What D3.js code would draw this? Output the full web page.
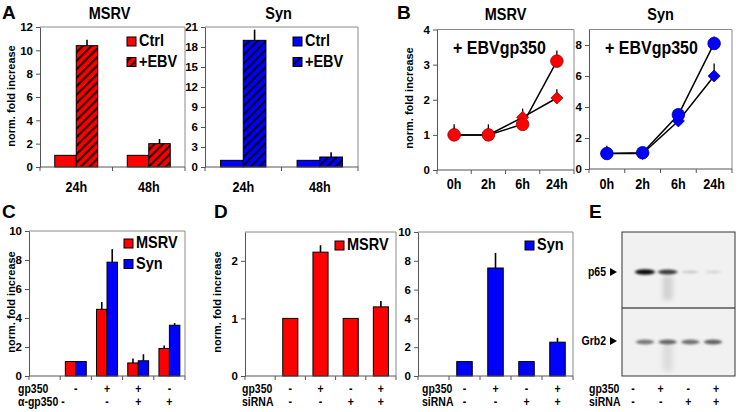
<!DOCTYPE html>
<html><head><meta charset="utf-8">
<script src="https://cdn.jsdelivr.net/npm/d3@7"></script>
<style>
body{margin:0;background:#fff}
svg{display:block}
text{font-family:"Liberation Sans",Arial,sans-serif;font-weight:bold;fill:#000}
</style>
</head><body>
<svg id="c" width="739" height="412"></svg>
<script>
// ---------------- DATA ----------------
// Panel A
const aCats = ['24h', '48h'];
const aSeries = ['Ctrl', '+EBV'];
const aMsrvCtrl = [1, 1];
const aMsrvEbv = [10.4, 2.0];
const aMsrvEbvErr = [0.5, 0.4];
const aSynCtrl = [1, 1];
const aSynEbv = [19.0, 1.5];
const aSynEbvErr = [1.6, 0.7];
const aMsrvTicks = [0, 2, 4, 6, 8, 10, 12];
const aSynTicks = [0, 3, 6, 9, 12, 15, 18, 21];
// Panel B
const bTimes = ['0h', '2h', '6h', '24h'];
const bMsrvCircle = [1, 1, 1.3, 3.1];
const bMsrvCircleErr = [0.3, 0.3, 0.1, 0.3];
const bMsrvDiamond = [1, 1, 1.5, 2.05];
const bMsrvDiamondErr = [0.2, 0.2, 0.25, 0.25];
const bSynCircle = [1, 1.05, 3.5, 8.1];
const bSynCircleErr = [0.5, 0.3, 0.4, 0.45];
const bSynDiamond = [1, 1, 3.1, 6.0];
const bSynDiamondErr = [0.3, 0.3, 0.3, 0.8];
const bMsrvTicks = [0, 1, 2, 3, 4];
const bSynTicks = [0, 2, 4, 6, 8];
// Panel C
const cCats = ['c1', 'c2', 'c3', 'c4', 'c5'];
const cMsrv = [null, 1, 4.6, 0.9, 1.9];
const cMsrvErr = [0, 0, 0.5, 0.3, 0.2];
const cSyn = [null, 1, 7.85, 1.05, 3.5];
const cSynErr = [0, 0, 0.9, 0.45, 0.15];
const cTicks = [0, 2, 4, 6, 8, 10];
const cRowLabels = ['gp350', 'α-gp350 -'];
const cGp350 = ['', '-', '+', '+', '-'];
const cAnti = ['', '', '-', '+', '+'];
// Panel D
const dCats = ['d1', 'd2', 'd3', 'd4', 'd5'];
const dMsrv = [null, 1, 2.15, 1, 1.2];
const dMsrvErr = [0, 0, 0.12, 0, 0.1];
const dSyn = [null, 1, 7.5, 1, 2.35];
const dSynErr = [0, 0, 1.05, 0, 0.3];
const dMsrvTicks = [0, 1, 2];
const dSynTicks = [0, 2, 4, 6, 8, 10];
const dRowLabels = ['gp350', 'siRNA'];
const dGp350 = ['', '-', '+', '-', '+'];
const dSiRNA = ['', '-', '-', '+', '+'];
// Panel E (western blot)
const eLanes = ['L1', 'L2', 'L3', 'L4'];
const eP65 = [1.0, 0.8, 0.18, 0.12];
const eGrb2 = [0.62, 0.72, 0.66, 0.74];
const eGp350 = ['-', '+', '-', '+'];
const eSiRNA = ['-', '-', '+', '+'];

const RED = '#ff0000', BLUE = '#0000ff';

// ---------------- HELPERS ----------------
const svg = d3.select('#c');
const defs = svg.append('defs');
function hatch(id, bg, fg) {
  const p = defs.append('pattern').attr('id', id).attr('patternUnits', 'userSpaceOnUse')
    .attr('width', 6).attr('height', 6).attr('patternTransform', 'rotate(45)');
  p.append('rect').attr('width', 6).attr('height', 6).attr('fill', bg);
  p.append('rect').attr('width', 2.2).attr('height', 6).attr('fill', fg);
}
hatch('hr', RED, '#2a0000');
hatch('hb', BLUE, '#00002a');
const blur = defs.append('filter').attr('id', 'bl').attr('x', '-50%').attr('y', '-100%').attr('width', '200%').attr('height', '300%');
blur.append('feGaussianBlur').attr('stdDeviation', '1.6 1.1');
const blur2 = defs.append('filter').attr('id', 'bl2').attr('x', '-50%').attr('y', '-50%').attr('width', '200%').attr('height', '200%');
blur2.append('feGaussianBlur').attr('stdDeviation', 2.5);

const SY = 1.15;
function T(x, y, s, size, anchor = 'start', sy = SY) {
  return svg.append('text').attr('transform', `translate(${x},${y}) scale(1,${sy})`)
    .attr('font-size', size).attr('text-anchor', anchor).text(s);
}
function yTitle(x, y, s) {
  svg.append('text').attr('transform', `translate(${x},${y}) rotate(-90)`)
    .attr('font-size', 11).attr('text-anchor', 'middle').text(s);
}
function frame(x0, x1, yTop, yBot) {
  svg.append('path').attr('d', `M${x0},${yTop}H${x1}V${yBot}`)
    .attr('stroke', '#8a8a8a').attr('stroke-width', 1).attr('fill', 'none');
}
function yAxis(x0, y, ticks) {
  const g = svg.append('g').attr('transform', `translate(${x0},0)`)
    .call(d3.axisLeft(y).tickValues(ticks).tickFormat(d3.format('d')).tickSize(4).tickPadding(3).tickSizeOuter(0));
  g.select('.domain').attr('stroke', '#555');
  g.selectAll('.tick line').attr('stroke', '#555');
  g.selectAll('text').attr('font-size', 11.5).style('font-family', '"Liberation Sans",Arial,sans-serif').style('font-weight', 'bold').attr('fill', '#000');
  return g;
}
function xAxisLine(x, yBot) {
  const r = x.range();
  svg.append('line').attr('x1', r[0]).attr('x2', r[1]).attr('y1', yBot).attr('y2', yBot).attr('stroke', '#555');
  const bounds = d3.range(x.domain().length + 1).map(i => r[0] + i * x.step());
  svg.selectAll(null).data(bounds).enter().append('line')
    .attr('x1', d => d).attr('x2', d => d).attr('y1', yBot).attr('y2', yBot + 4).attr('stroke', '#555');
}
function bandCenters(x) { return x.domain().map(d => x(d) + x.bandwidth() / 2); }

// grouped bars (Excel-like layout)
function bars(x, y, cats, vals, errs, fill, offset, width) {
  const data = cats.map((c, i) => ({c, v: vals[i], e: errs[i]})).filter(d => d.v != null);
  svg.selectAll(null).data(data).enter().append('line')
    .attr('x1', d => x(d.c) + offset + width / 2).attr('x2', d => x(d.c) + offset + width / 2)
    .attr('y1', d => y(d.v)).attr('y2', d => y(d.v + d.e))
    .attr('stroke', '#000').attr('stroke-width', 1.6);
  svg.selectAll(null).data(data).enter().append('rect')
    .attr('x', d => x(d.c) + offset).attr('width', width)
    .attr('y', d => y(d.v)).attr('height', d => y(0) - y(d.v))
    .attr('fill', fill).attr('stroke', '#000').attr('stroke-width', 1);
}
function legend(x, y, items) {
  items.forEach((it, i) => {
    svg.append('rect').attr('x', x).attr('y', y + i * 20.5 - 9).attr('width', 9).attr('height', 9)
      .attr('fill', it.fill).attr('stroke', '#000').attr('stroke-width', 1);
    T(x + 12, y + i * 20.5, it.label, 14.5);
  });
}

// ---------------- PANEL A ----------------
T(2, 19, 'A', 19, 'start', 1);
function panelA(x0, x1, max, ticks, ctrl, ebv, ebvErr, fill, hatchId, title, lx) {
  const yTop = 27, yBot = 167;
  const y = d3.scaleLinear().domain([0, max]).range([yBot, yTop]);
  const x = d3.scaleBand().domain(aCats).range([x0, x1]).paddingInner(0.407).paddingOuter(0.2035);
  frame(x0, x1, yTop, yBot);
  const bw = x.bandwidth() / 2;
  bars(x, y, aCats, ctrl, [0, 0], fill, 0, bw);
  bars(x, y, aCats, ebv, ebvErr, `url(#${hatchId})`, bw, bw);
  yAxis(x0, y, ticks);
  xAxisLine(x, yBot);
  bandCenters(x).forEach((cx, i) => T(cx, 192, aCats[i], 12.6, 'middle'));
  T((x0 + x1) / 2 - 3, 19, title, 14.5, 'middle');
  legend(lx, 46, [{fill: fill, label: aSeries[0]}, {fill: `url(#${hatchId})`, label: aSeries[1]}]);
}
panelA(40, 185, 12, aMsrvTicks, aMsrvCtrl, aMsrvEbv, aMsrvEbvErr, RED, 'hr', 'MSRV', 127);
panelA(205, 358, 21, aSynTicks, aSynCtrl, aSynEbv, aSynEbvErr, BLUE, 'hb', 'Syn', 293);
yTitle(15, 96, 'norm. fold increase');

// ---------------- PANEL B ----------------
T(397, 19, 'B', 19, 'start', 1);
function diamond(r) { return `M0,${-r}L${r},0L0,${r}L${-r},0Z`; }
function panelB(x0, x1, yBot, max, ticks, circ, circErr, dia, diaErr, fill, stroke, title) {
  const yTop = 29.5;
  const y = d3.scaleLinear().domain([0, max]).range([yBot, yTop]);
  const x = d3.scaleBand().domain(bTimes).range([x0, x1]);
  const cx = t => x(t) + x.bandwidth() / 2;
  frame(x0, x1, yTop, yBot);
  yAxis(x0, y, ticks);
  xAxisLine(x, yBot);
  bTimes.forEach(t => T(cx(t), 189, t, 12.6, 'middle'));
  T((x0 + x1) / 2, 20, title, 14.5, 'middle');
  T(x0 + 16, 54, '+ EBVgp350', 16);
  const line = d3.line().x((d, i) => cx(bTimes[i])).y(d => y(d));
  [dia, circ].forEach(s => svg.append('path').attr('d', line(s)).attr('fill', 'none').attr('stroke', '#000').attr('stroke-width', 1.5));
  const errs = (vals, e) => svg.selectAll(null).data(vals).enter().append('line')
    .attr('x1', (d, i) => cx(bTimes[i])).attr('x2', (d, i) => cx(bTimes[i]))
    .attr('y1', d => y(d)).attr('y2', (d, i) => y(d + e[i])).attr('stroke', '#000').attr('stroke-width', 1.3);
  errs(dia, diaErr); errs(circ, circErr);
  svg.selectAll(null).data(dia).enter().append('path')
    .attr('transform', (d, i) => `translate(${cx(bTimes[i])},${y(d)})`).attr('d', diamond(6))
    .attr('fill', fill).attr('stroke', stroke).attr('stroke-width', 0.8);
  svg.selectAll(null).data(circ).enter().append('circle')
    .attr('cx', (d, i) => cx(bTimes[i])).attr('cy', d => y(d)).attr('r', 6.3)
    .attr('fill', fill).attr('stroke', stroke).attr('stroke-width', 0.8);
}
panelB(437, 574, 170, 4, bMsrvTicks, bMsrvCircle, bMsrvCircleErr, bMsrvDiamond, bMsrvDiamondErr, RED, '#900', 'MSRV');
panelB(589, 732, 169, 9, bSynTicks, bSynCircle, bSynCircleErr, bSynDiamond, bSynDiamondErr, BLUE, '#009', 'Syn');
yTitle(413, 98, 'norm. fold increase');

// ---------------- PANEL C ----------------
T(2, 218, 'C', 19, 'start', 1);
(function () {
  const x0 = 29, x1 = 185, yTop = 231, yBot = 376;
  const y = d3.scaleLinear().domain([0, 10]).range([yBot, yTop]);
  const x = d3.scaleBand().domain(cCats).range([x0, x1]).paddingInner(0.33).paddingOuter(0.165);
  frame(x0, x1, yTop, yBot);
  const bw = x.bandwidth() / 2;
  bars(x, y, cCats, cMsrv, cMsrvErr, RED, 0, bw);
  bars(x, y, cCats, cSyn, cSynErr, BLUE, bw, bw);
  yAxis(x0, y, cTicks);
  xAxisLine(x, yBot);
  legend(124, 248, [{fill: RED, label: 'MSRV'}, {fill: BLUE, label: 'Syn'}]);
  const cs = bandCenters(x);
  T(18, 393, cRowLabels[0], 10.5);
  T(18, 406, cRowLabels[1], 10.5);
  cGp350.forEach((s, i) => { if (s) T(cs[i], 393, s, 10.5, 'middle'); });
  cAnti.forEach((s, i) => { if (s) T(cs[i], 406, s, 10.5, 'middle'); });
})();
yTitle(15, 302, 'norm. fold increase');

// ---------------- PANEL D ----------------
T(214, 218, 'D', 19, 'start', 1);
function panelD(x0, x1, max, ticks, vals, errs, fill, label, lx, rowX) {
  const yTop = 232, yBot = 376;
  const y = d3.scaleLinear().domain([0, max]).range([yBot, yTop]);
  const x = d3.scaleBand().domain(dCats).range([x0, x1]).paddingInner(0.5).paddingOuter(0.25);
  frame(x0, x1, yTop, yBot);
  bars(x, y, dCats, vals, errs, fill, 0, x.bandwidth());
  yAxis(x0, y, ticks);
  xAxisLine(x, yBot);
  legend(lx, 250, [{fill: fill, label: label}]);
  const cs = bandCenters(x);
  T(rowX, 393, dRowLabels[0], 10.5);
  T(rowX, 406, dRowLabels[1], 10.5);
  dGp350.forEach((s, i) => { if (s) T(cs[i], 393, s, 10.5, 'middle'); });
  dSiRNA.forEach((s, i) => { if (s) T(cs[i], 406, s, 10.5, 'middle'); });
}
panelD(245, 396, 2.5, dMsrvTicks, dMsrv, dMsrvErr, RED, 'MSRV', 335, 242);
panelD(418, 573, 10, dSynTicks, dSyn, dSynErr, BLUE, 'Syn', 525, 422);
yTitle(221, 302, 'norm. fold increase');

// ---------------- PANEL E ----------------
T(589, 218, 'E', 19, 'start', 1);
(function () {
  const x0 = 622, x1 = 735, yTop = 232, yMid = 308, yBot = 376;
  const lane = d3.scalePoint().domain(eLanes).range([645, 713]);
  svg.append('rect').attr('x', x0).attr('y', yTop).attr('width', x1 - x0).attr('height', yBot - yTop)
    .attr('fill', '#f1f1f1');
  svg.append('rect').attr('x', lane('L2') - 5).attr('y', 276).attr('width', 10).attr('height', 24)
    .attr('fill', '#d2d2d2').attr('filter', 'url(#bl2)');
  svg.append('rect').attr('x', lane('L2') - 5).attr('y', 345).attr('width', 10).attr('height', 26)
    .attr('fill', '#dcdcdc').attr('filter', 'url(#bl2)');
  svg.selectAll(null).data(eP65).enter().append('ellipse')
    .attr('cx', (d, i) => lane(eLanes[i])).attr('cy', 272)
    .attr('rx', d => 8 + 2 * d).attr('ry', d => 1.2 + 1.6 * d)
    .attr('fill', '#111').attr('opacity', d => d).attr('filter', 'url(#bl)');
  svg.selectAll(null).data(eGrb2).enter().append('ellipse')
    .attr('cx', (d, i) => lane(eLanes[i])).attr('cy', 342)
    .attr('rx', 9).attr('ry', 2.4)
    .attr('fill', '#333').attr('opacity', d => d).attr('filter', 'url(#bl)');
  svg.append('line').attr('x1', x0).attr('x2', x1).attr('y1', yMid).attr('y2', yMid).attr('stroke', '#555').attr('stroke-width', 1.5);
  svg.append('rect').attr('x', x0).attr('y', yTop).attr('width', x1 - x0).attr('height', yBot - yTop)
    .attr('fill', 'none').attr('stroke', '#333').attr('stroke-width', 1);
  T(606, 276, 'p65', 10.5, 'end');
  T(606, 345, 'Grb2', 10.5, 'end');
  [272, 341].forEach(yy => svg.append('path').attr('d', `M610,${yy - 4}L617,${yy}L610,${yy + 4}Z`).attr('fill', '#000'));
  T(589, 393, 'gp350', 10.5);
  T(589, 406, 'siRNA', 10.5);
  const lx = d3.scalePoint().domain(eLanes).range([633, 716]);
  eGp350.forEach((s, i) => T(lx(eLanes[i]), 393, s, 10.5, 'middle'));
  eSiRNA.forEach((s, i) => T(lx(eLanes[i]), 406, s, 10.5, 'middle'));
})();
</script>
</body></html>
